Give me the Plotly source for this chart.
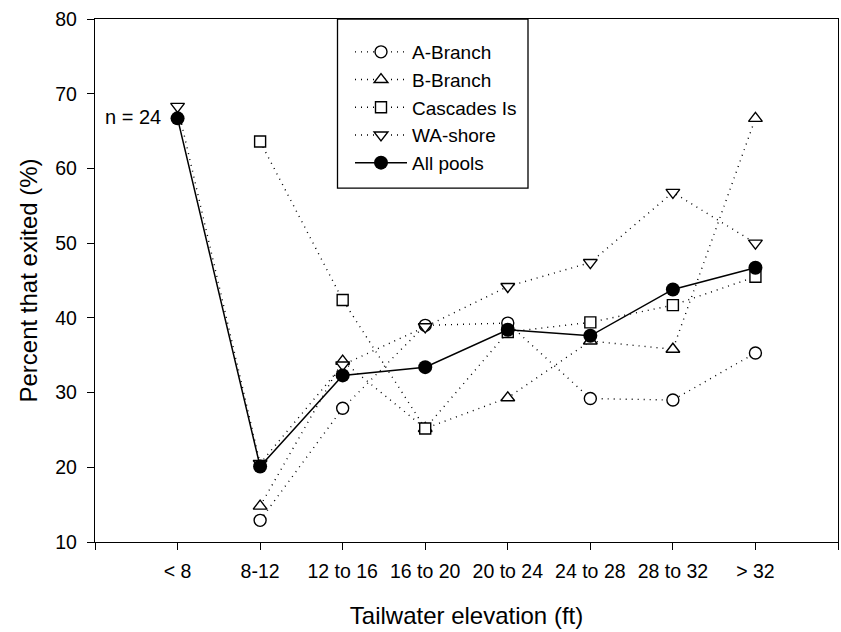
import numpy as np
import plotly.graph_objects as go

# Tailwater elevation classes (ft)
categories = ["< 8", "8-12", "12 to 16", "16 to 20", "20 to 24", "24 to 28", "28 to 32", "> 32"]

# Percent of fish that exited, by pool
a_branch = [None, 12.9, 27.9, 39.0, 39.3, 29.2, 29.0, 35.3]
b_branch = [None, 14.8, 34.2, 25.2, 29.3, 36.9, 35.8, 66.7]
cascades = [None, 63.6, 42.4, 25.2, 38.1, 39.4, 41.7, 45.5]
wa_shore = [68.3, 20.5, 33.7, 38.8, 44.2, 47.4, 56.8, 50.0]
all_pools = [66.7, 20.1, 32.3, 33.4, 38.4, 37.6, 43.8, 46.7]
n_first = 24

y_ticks = [10, 20, 30, 40, 50, 60, 70, 80]

xs = np.arange(len(categories))
tick_pos = np.arange(-1, len(categories) + 1)
tick_txt = [""] + categories + [""]

FONT = "Liberation Sans, Arial, sans-serif"
DOT = "1px,5px"

fig = go.Figure()

pool_series = [
    ("A-Branch", a_branch, "circle", 12),
    ("B-Branch", b_branch, "triangle-up", 12),
    ("Cascades Is", cascades, "square", 11),
    ("WA-shore", wa_shore, "triangle-down", 12),
]
for name, vals, sym, size in pool_series:
    fig.add_trace(go.Scatter(
        x=xs, y=vals, name=name, mode="lines+markers",
        line=dict(color="black", width=1.4, dash=DOT),
        marker=dict(symbol=sym, size=size, color="white",
                    line=dict(color="black", width=1.4)),
    ))

fig.add_trace(go.Scatter(
    x=xs, y=all_pools, name="All pools", mode="lines+markers",
    line=dict(color="black", width=1.5),
    marker=dict(symbol="circle", size=14, color="black", line=dict(width=0)),
))

fig.add_annotation(
    x=xs[0], y=all_pools[0], text=f"n = {n_first}", showarrow=False,
    xanchor="right", yanchor="middle", xshift=-15, yshift=1,
    font=dict(family=FONT, size=20, color="black"),
)

# plot-area edges in pixels, used to place the legend frame
L, R, T, B = 95, 838, 19, 541.7
W, H = 841, 632
def px_x(p):
    return (p - L) / (R - L)
def px_y(p):
    return (B - p) / (B - T)

fig.add_shape(type="rect", xref="paper", yref="paper",
              x0=px_x(337.5), x1=px_x(528), y0=px_y(188), y1=1,
              line=dict(color="black", width=1.3), fillcolor="white", layer="below")

fig.update_layout(
    width=W, height=H,
    margin=dict(l=L, r=W - R, t=T, b=H - B),
    paper_bgcolor="white", plot_bgcolor="white",
    font=dict(family=FONT, size=19.5, color="black"),
    showlegend=True,
    legend=dict(
        x=px_x(350), y=px_y(33), xanchor="left", yanchor="top",
        bgcolor="rgba(0,0,0,0)", borderwidth=0,
        font=dict(family=FONT, size=19, color="black"),
        itemwidth=52, tracegroupgap=0,
    ),
    xaxis=dict(
        range=[-1, len(categories)], tickmode="array", tickvals=tick_pos, ticktext=tick_txt,
        showgrid=False, zeroline=False, showline=True, linecolor="black", linewidth=1.3,
        mirror=True, ticks="outside", ticklen=7, tickwidth=1.3, tickcolor="black",
        ticklabelstandoff=4,
        title=dict(text="Tailwater elevation (ft)", font=dict(size=24), standoff=26),
    ),
    yaxis=dict(
        range=[10, 80], tickmode="array", tickvals=y_ticks,
        showgrid=False, zeroline=False, showline=True, linecolor="black", linewidth=1.3,
        mirror=True, ticks="outside", ticklen=7, tickwidth=1.3, tickcolor="black",
        ticklabelstandoff=6,
        title=dict(text="Percent that exited (%)", font=dict(size=24), standoff=10),
    ),
)

fig.write_html("out.html")
